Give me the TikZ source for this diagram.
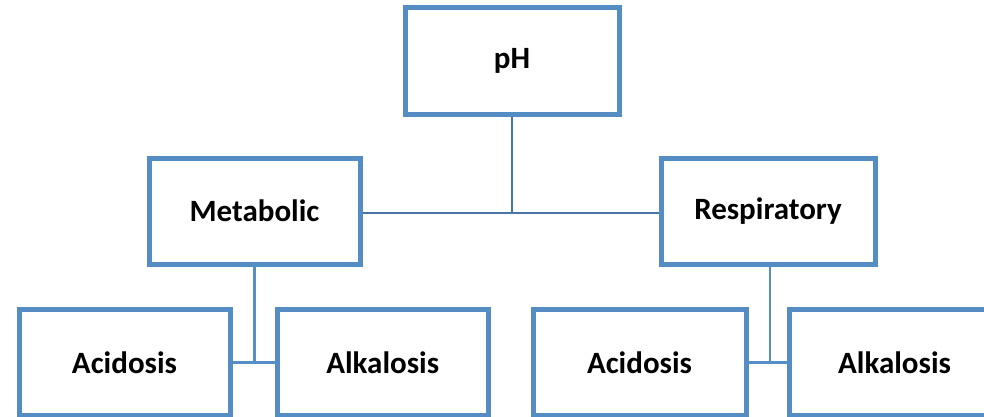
\documentclass[tikz,border=0pt]{standalone}
\usepackage{fontspec}
\setmainfont{Carlito}
\definecolor{boxblue}{RGB}{84,140,196}
\definecolor{trunkblue}{RGB}{70,118,168}
\definecolor{leafblue}{RGB}{86,142,200}
\begin{document}
\begin{tikzpicture}[x=1pt,y=-1pt,
  box/.style={draw=boxblue,line width=5pt,fill=white,minimum width=211pt,minimum height=106pt,inner sep=0pt,
    font=\fontsize{31}{37}\selectfont\bfseries,text=black},
  trunk/.style={draw=trunkblue,line width=2.5pt},
  leaf/.style={draw=leafblue,line width=2.5pt}]
\useasboundingbox (0,0) rectangle (984,417);
\clip (0,0) rectangle (984,417);
\node[box,minimum width=214pt,minimum height=107pt] (ph) at (512,61) {pH};
\node[box] (met) at (254.5,211) {Metabolic};
\node[box,minimum width=214pt] (resp) at (768,211) {Respiratory};
\coordinate (mid) at (512,213);
\node[box] (acl) at (124.5,362.5) {Acidosis};
\node[box] (all) at (382.7,362.5) {Alkalosis};
\node[box,minimum width=213pt] (acr) at (639.5,362.5) {Acidosis};
\node[box] (alr) at (894.5,362.5) {Alkalosis};
\draw[trunk] (ph.south) -- (mid);
\draw[trunk] (met.east |- mid) -- (resp.west |- mid);
\draw[leaf] (met.south) -- (met.south |- acl.east);
\draw[leaf] (acl.east) -- (all.west);
\draw[leaf] ([xshift=2pt]resp.south) -- ([xshift=2pt]resp.south |- acr.east);
\draw[leaf] (acr.east) -- (alr.west);
\end{tikzpicture}
\end{document}
